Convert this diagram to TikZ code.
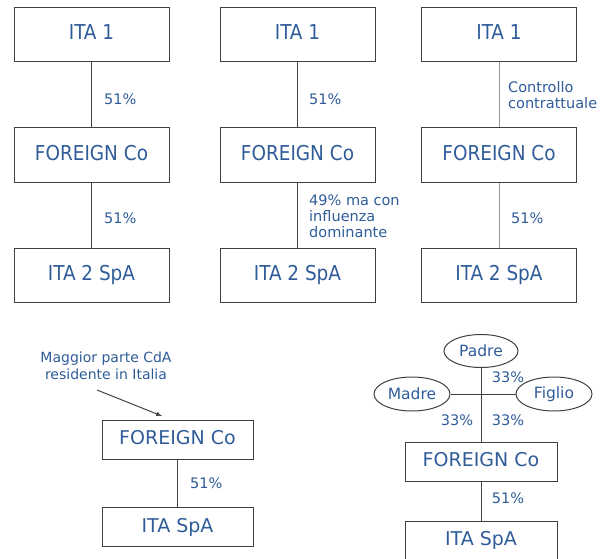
\documentclass[tikz,border=0pt]{standalone}
\usepackage{fontspec}
\setmainfont{DejaVu Sans}
\newfontfamily\condfont{DejaVu Sans Condensed}
\usetikzlibrary{arrows,shapes,positioning,calc}
\definecolor{txtblue}{RGB}{47,92,153}
\definecolor{lineg}{RGB}{64,64,64}

\tikzset{
	topbox/.style={draw=lineg,line width=1pt,minimum width=155pt,minimum height=54pt,inner sep=0pt,text height=15pt,text depth=5pt,text=txtblue,font=\condfont\fontsize{20.5}{24}\selectfont},
	lowbox/.style={topbox,minimum width=151pt,minimum height=39pt,text height=14pt,text depth=4pt,font=\fontsize{19}{22}\selectfont},
	pct/.style={text=txtblue,inner sep=0pt,align=left,font=\fontsize{14.5}{16}\selectfont},
	person/.style={ellipse,draw=lineg,line width=1pt,inner sep=0pt,text=txtblue,font=\fontsize{15.5}{18}\selectfont},
	link/.style={draw=lineg,line width=1pt},
	softlink/.style={draw=lineg!55,line width=1pt}
}

\begin{document}
\begin{tikzpicture}[x=1pt,y=-1pt]
	\useasboundingbox (0,0) rectangle (602,559);

	% first column
	\node[topbox] (itaA)  at (91.5,35)  {ITA 1};
	\node[topbox] (forA)  at (91.5,155) {FOREIGN Co};
	\node[topbox] (spaA)  at (91.5,275) {ITA 2 SpA};
	\draw[link] (itaA) -- (forA);
	\draw[link] (forA) -- (spaA);
	\node[pct,anchor=west] (pctA1) at (104,99)  {51\%};
	\node[pct,anchor=west] (pctA2) at (104,218) {51\%};

	% second column
	\node[topbox] (itaB)  at (297.5,35)  {ITA 1};
	\node[topbox] (forB)  at (297.5,155) {FOREIGN Co};
	\node[topbox] (spaB)  at (297.5,275) {ITA 2 SpA};
	\draw[link] (itaB) -- (forB);
	\draw[link] (forB) -- (spaB);
	\node[pct,anchor=west] (pctB1) at (309,99)  {51\%};
	\node[pct,anchor=west] (pctB2) at (309,216) {49\% ma con\\influenza\\dominante};

	% third column
	\node[topbox] (itaC)  at (499,35)  {ITA 1};
	\node[topbox] (forC)  at (499,155) {FOREIGN Co};
	\node[topbox] (spaC)  at (499,275) {ITA 2 SpA};
	\draw[softlink] (itaC) -- (forC);
	\draw[softlink] (forC) -- (spaC);
	\node[pct,anchor=west] (pctC1) at (508,95)  {Controllo\\contrattuale};
	\node[pct,anchor=west] (pctC2) at (511,218) {51\%};

	% board resident in Italy
	\node[lowbox] (forD) at (177.5,439.5) {FOREIGN Co};
	\node[lowbox] (spaD) at (177.5,527)   {ITA SpA};
	\draw[link] (forD) -- (spaD);
	\node[pct,anchor=west] (pctD) at (190,483) {51\%};
	\node[pct,align=center,font=\fontsize{14}{17}\selectfont] (cda) at (106,366) {Maggior parte CdA\\residente in Italia};
	\coordinate (cdaFrom) at (97,390);
	\coordinate (cdaTo)   at (162,416);
	\draw[-latex,lineg,line width=1pt] (cdaFrom) -- (cdaTo);

	% family holding
	\node[person,minimum width=74pt,minimum height=33pt] (padre)  at (481,351) {Padre};
	\node[person,minimum width=76pt,minimum height=34pt] (madre)  at (412,394) {Madre};
	\node[person,minimum width=76pt,minimum height=34pt] (figlio) at (554,394) {Figlio};
	\node[lowbox,minimum width=152pt] (forE) at (481,461.5) {FOREIGN Co};
	\node[lowbox,minimum width=152pt,minimum height=45pt,text height=14pt,text depth=10pt] (spaE) at (481,543.5) {ITA SpA};
	\draw[link] (padre) -- (forE);
	\draw[link] (madre) -- (figlio);
	\draw[link] (forE) -- (spaE);
	\node[pct] (pctE1) at (508,377) {33\%};
	\node[pct] (pctE2) at (457,420) {33\%};
	\node[pct] (pctE3) at (508,420) {33\%};
	\node[pct] (pctE4) at (508,498) {51\%};
\end{tikzpicture}
\end{document}
